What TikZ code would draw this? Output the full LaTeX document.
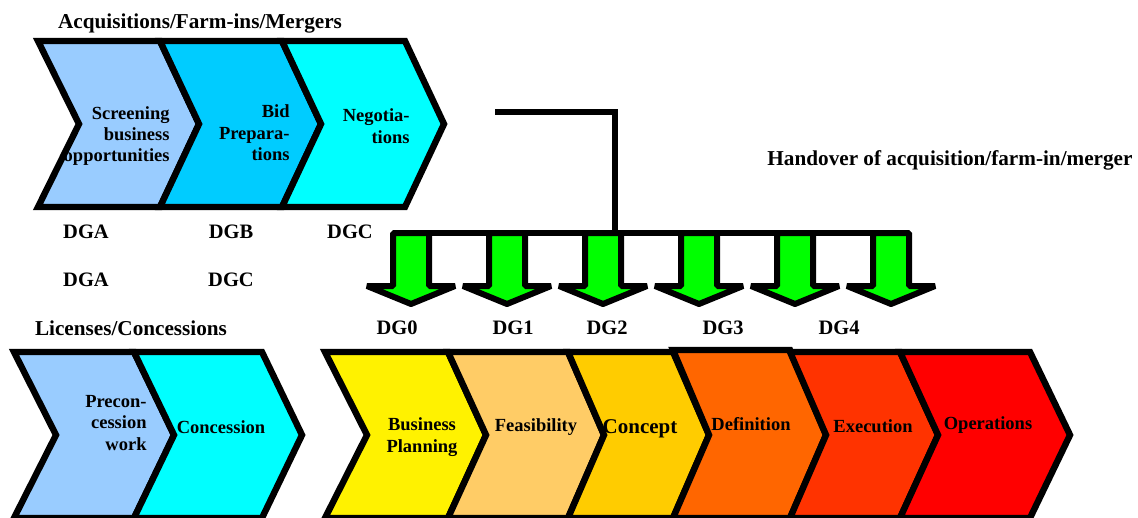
\documentclass[tikz,border=0pt]{standalone}
\usepackage{fontspec}
\setmainfont{Liberation Serif}
\usepackage{tikz}
\usepackage{xcolor}

\definecolor{paleblue}{HTML}{99CCFF}
\definecolor{skyblue}{HTML}{00CCFF}
\definecolor{aqua}{HTML}{00FFFF}
\definecolor{lightorange}{HTML}{FFCC66}
\definecolor{gold}{HTML}{FFCC00}
\definecolor{darkorange}{HTML}{FF6600}
\definecolor{redorange}{HTML}{FF3300}
\definecolor{arrowgreen}{HTML}{00FF00}

\begin{document}
\begin{tikzpicture}[x=0.5pt, y=-0.5pt,
    chev/.style={draw, line width=3.2pt},
    gate/.style={draw, fill=arrowgreen, line width=3pt, line join=bevel},
    wire/.style={draw, line width=3pt},
    heading/.style={font=\fontsize{10.6}{12.5}\selectfont\bfseries},
    dglabel/.style={font=\fontsize{10.25}{12}\selectfont\bfseries},
    steptext/.style={font=\fontsize{9.25}{10.7}\selectfont\bfseries, inner sep=0pt}]
    \useasboundingbox (0,0) rectangle (1138,518);

    % acquisitions / farm-ins / mergers
    \node[heading] (acqtitle) at (200,23) {Acquisitions/Farm-ins/Mergers};
    \draw[chev, fill=paleblue] (38,41) -- (160,41) -- (199,124) -- (160,207) -- (38,207) -- (79,124) -- cycle;
    \draw[chev, fill=skyblue] (160,41) -- (282,41) -- (321,124) -- (282,207) -- (160,207) -- (199,124) -- cycle;
    \draw[chev, fill=aqua] (282,41) -- (405,41) -- (444,124) -- (405,207) -- (282,207) -- (321,124) -- cycle;
    \node[steptext, anchor=east, align=right] (screening) at (170,136) {Screening\\business\\opportunities};
    \node[steptext, anchor=east, align=right] (bidprep) at (290,133) {Bid\\Prepara-\\tions};
    \node[steptext, anchor=east, align=right] (negotiation) at (410,126) {Negotia-\\tions};

    \node[dglabel] (dga1) at (86,232) {DGA};
    \node[dglabel] (dgb1) at (231,232) {DGB};
    \node[dglabel] (dgc1) at (350,232) {DGC};
    \node[dglabel] (dga2) at (86,280) {DGA};
    \node[dglabel] (dgc2) at (231,280) {DGC};

    % licenses / concessions
    \node[heading] (lictitle) at (131,328) {Licenses/Concessions};
    \draw[chev, fill=paleblue] (14,352) -- (134,352) -- (174,435) -- (134,518) -- (14,518) -- (56,435) -- cycle;
    \draw[chev, fill=aqua] (134,352) -- (262,352) -- (302,435) -- (262,518) -- (134,518) -- (174,435) -- cycle;
    \node[steptext, anchor=east, align=right] (precon) at (147,423) {Precon-\\cession\\work};
    \node[steptext] (concession) at (221,427) {Concession};

    % handover to the gates
    \node[heading] (handover) at (950,160) {Handover of acquisition/farm-in/merger};
    \coordinate (hstart) at (495,112);
    \coordinate (bartop) at (615,236);
    \coordinate (barleft) at (393,233);
    \coordinate (barright) at (909,233);
    \draw[gate] (393,233) -- (429,233) -- (429,286) -- (455,286) -- (411,304) -- (367,286) -- (393,286) -- cycle;
    \draw[gate] (489,233) -- (525,233) -- (525,286) -- (551,286) -- (507,304) -- (463,286) -- (489,286) -- cycle;
    \draw[gate] (585,233) -- (621,233) -- (621,286) -- (647,286) -- (603,304) -- (559,286) -- (585,286) -- cycle;
    \draw[gate] (681,233) -- (717,233) -- (717,286) -- (743,286) -- (699,304) -- (655,286) -- (681,286) -- cycle;
    \draw[gate] (777,233) -- (813,233) -- (813,286) -- (839,286) -- (795,304) -- (751,286) -- (777,286) -- cycle;
    \draw[gate] (873,233) -- (909,233) -- (909,286) -- (935,286) -- (891,304) -- (847,286) -- (873,286) -- cycle;
    \draw[wire] (barleft) -- (barright);
    \draw[wire] (hstart) -| (bartop);

    \node[dglabel] (dg0) at (397,328) {DG0};
    \node[dglabel] (dg1) at (513,328) {DG1};
    \node[dglabel] (dg2) at (607,328) {DG2};
    \node[dglabel] (dg3) at (723,328) {DG3};
    \node[dglabel] (dg4) at (839,328) {DG4};

    % project phases
    \draw[chev, fill=yellow] (325,352) -- (448,352) -- (486,435) -- (448,518) -- (325,518) -- (367,435) -- cycle;
    \draw[chev, fill=lightorange] (448,352) -- (568,352) -- (604,435) -- (568,518) -- (448,518) -- (486,435) -- cycle;
    \draw[chev, fill=gold] (568,352) -- (673,352) -- (709,435) -- (673,518) -- (568,518) -- (604,435) -- cycle;
    \draw[chev, fill=darkorange] (673,350) -- (790,350) -- (826,435) -- (790,518) -- (673,518) -- (709,435) -- cycle;
    \draw[chev, fill=redorange] (790,352) -- (900,352) -- (938,435) -- (900,518) -- (790,518) -- (826,435) -- cycle;
    \draw[chev, fill=red] (900,352) -- (1030,352) -- (1070,435) -- (1030,518) -- (900,518) -- (938,435) -- cycle;
    \node[steptext, align=center] (planning) at (422,437) {Business\\Planning};
    \node[steptext] (feasibility) at (536,427) {Feasibility};
    \node[steptext, font=\fontsize{10.5}{12}\selectfont\bfseries] (concept) at (640,429) {Concept};
    \node[steptext] (definition) at (751,424) {Definition};
    \node[steptext] (execution) at (873,426) {Execution};
    \node[steptext] (operations) at (988,425) {Operations};
\end{tikzpicture}
\end{document}
